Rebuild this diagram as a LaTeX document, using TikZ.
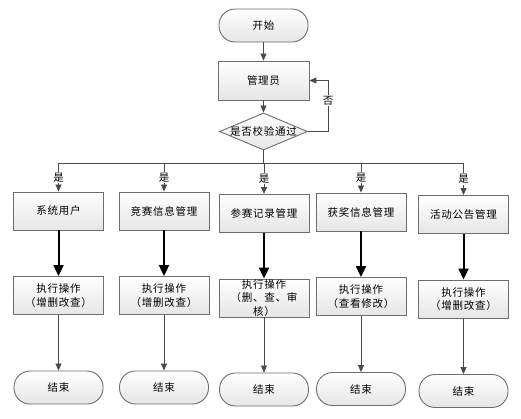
\documentclass[tikz,border=0pt]{standalone}
\usepackage{fontspec}
\newfontfamily\cjk[LetterSpace=7]{Noto Sans CJK SC}
\usetikzlibrary{shapes.geometric,arrows.meta}
\definecolor{bord}{HTML}{6E6E6E}
\definecolor{conncol}{HTML}{4A4A4A}
\begin{document}
\begin{tikzpicture}[x=1pt,y=-1pt,
  base/.style={draw=bord, line width=0.9pt, top color=white, bottom color=black!10,
    font=\cjk\fontsize{10.5}{13.5}\selectfont, align=center, inner sep=0pt},
  proc/.style={base, rectangle, minimum width=90pt, minimum height=38pt},
  term/.style={base, rectangle, rounded corners=16pt, minimum width=89pt, minimum height=33pt},
  dec/.style={base, diamond, aspect=2.4, minimum width=88pt, minimum height=37pt},
  conn/.style={draw=conncol, line width=0.8pt},
  arr/.style={conn, -{Triangle[length=7pt,width=6pt]}},
  boldarr/.style={draw=black, line width=2pt, -{Triangle[length=11pt,width=10pt]}},
  lab/.style={fill=white, inner sep=1pt, font=\cjk\fontsize{10.5}{12}\selectfont}]
\useasboundingbox (0,0) rectangle (521,418);

\node[term] (start) at (263.5,25.5) {开始};
\node[proc, minimum width=91pt, minimum height=39pt] (admin) at (263.5,80.5) {管理员};
\node[dec] (dia) at (263.5,131.5) {\makebox[0pt]{是否校验通过}};

\node[proc] (r1) at (58.5,211) {系统用户};
\node[proc] (r2) at (164,211) {竞赛信息管理};
\node[proc] (r3) at (264,213.5) {参赛记录管理};
\node[proc] (r4) at (361,212) {获奖信息管理};
\node[proc] (r5) at (463.5,214.5) {活动公告管理};

\node[proc] (e1) at (58.5,295.5) {执行操作\\（增删改查）};
\node[proc] (e2) at (164,295.5) {执行操作\\（增删改查）};
\node[proc] (e3) at (264,298) {执行操作\\（删、查、审\\核）};
\node[proc] (e4) at (361,296.5) {执行操作\\（查看修改）};
\node[proc] (e5) at (463.5,299) {执行操作\\（增删改查）};

\node[term] (t1) at (58.5,387.5) {结束};
\node[term] (t2) at (164,387.5) {结束};
\node[term] (t3) at (264,389.5) {结束};
\node[term] (t4) at (361,389) {结束};
\node[term] (t5) at (463.5,391) {结束};

\draw[arr] (start) -- (admin);
\draw[arr] (admin) -- (dia);
\coordinate (lp) at (328,131.5);
\draw[arr] (dia.east) -- (lp) |- node[lab, pos=0.3] {否} (admin.east);

\coordinate (b1) at (58.5,163);
\coordinate (b2) at (164,163);
\coordinate (b3) at (264,163);
\coordinate (b4) at (361,163);
\coordinate (b5) at (463.5,163);
\draw[conn] (b1) -- (b5);
\draw[conn] (dia.south) -- (dia.south |- b3);

\foreach \i in {1,...,5} {
  \draw[arr] (b\i) -- node[lab] {是} (r\i.north);
  \draw[boldarr] (r\i) -- (e\i);
  \draw[arr] (e\i) -- (t\i);
}
\end{tikzpicture}
\end{document}
